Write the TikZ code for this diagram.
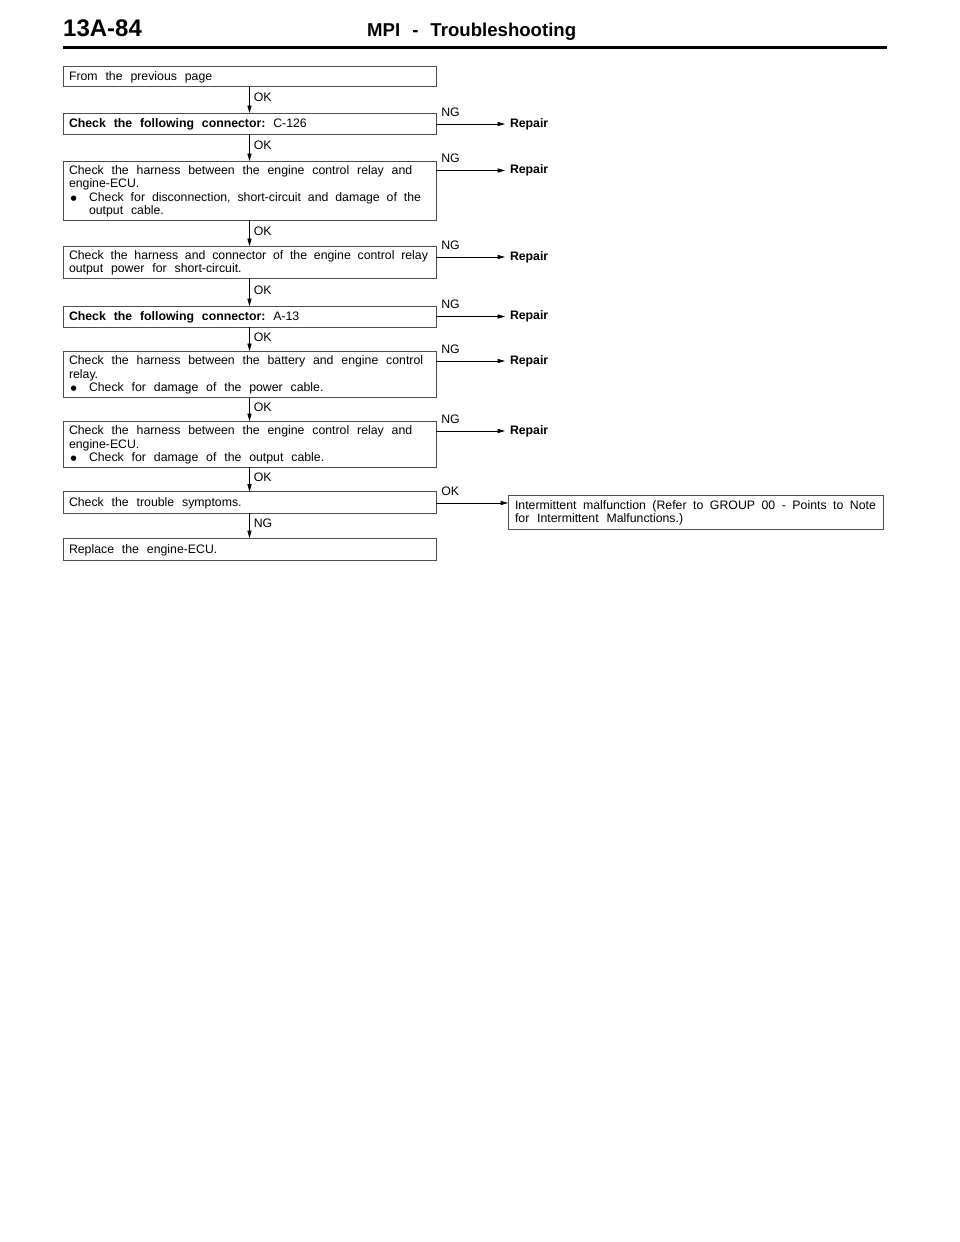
\documentclass[tikz,border=0pt]{standalone}
\usepackage{fontspec}
\setmainfont{Liberation Sans}[WordSpace={2.3,1.5,1.6}]
\newfontfamily\headfont{Liberation Sans}
\newfontfamily\symfont{DejaVu Sans}
\usetikzlibrary{arrows.meta,calc,positioning}
\frenchspacing
\newcommand\st{\rule[-2.6pt]{0pt}{13.5pt}}
\newcommand\boxfont{\fontsize{12.3pt}{13.5pt}\selectfont}
% a left-aligned line of a box
\newcommand\bxl[1]{\hbox to 361pt{\st #1\hfil}}
% a justified line of given width
\newcommand\bxj[2]{\hbox to #1{#2}}
\newcommand\bul{\hbox to 20pt{\hspace{1.5pt}\raisebox{1.2pt}{\symfont\fontsize{7pt}{7pt}\selectfont ●}\hfil}}
\newcommand\lines[1]{\vbox{\baselineskip=13.5pt\lineskip=0pt\lineskiplimit=0pt #1}}
\tikzset{
  box/.style={draw=black!70, line width=0.8pt, anchor=north west, minimum width=373pt,
    inner xsep=6pt, inner ysep=0pt, outer sep=0pt, font=\boxfont},
  arr/.style={-{Triangle[length=7.5pt,width=4.2pt]}, line width=0.7pt, black},
  oklab/.style={midway, anchor=west, inner sep=0pt, xshift=4pt, yshift=2pt, font=\boxfont},
  nglab/.style={pos=0, anchor=south west, inner sep=0pt, xshift=5pt, yshift=7.5pt, font=\boxfont},
  rep/.style={anchor=west, inner xsep=5pt, inner ysep=0pt, outer sep=0pt, font=\boxfont\bfseries}
}
\begin{document}
\begin{tikzpicture}[x=1pt,y=-1pt]
\useasboundingbox (0,0) rectangle (960,1242);
% header
\node[anchor=base west, inner sep=0pt] (pg) at (63,36.7) {\headfont\fontsize{24pt}{24pt}\selectfont\bfseries 13A-84};
\node[anchor=base west, inner sep=0pt] (ttl) at (367,36.7) {\headfont\fontsize{18.6pt}{18.6pt}\selectfont\bfseries MPI\hspace{12pt}-\hspace{12pt}Troubleshooting};
\draw[line width=3pt] (63,47) -- (887,47);
% boxes
\node[box, minimum height=20pt] (b1) at (63,66.5) {\lines{\bxl{From the previous page}}};
\node[box, minimum height=21pt] (b2) at (63,113) {\lines{\bxl{\textbf{Check the following connector:} C-126}}};
\node[box, minimum height=59pt] (b3) at (63,161) {\lines{%
\bxl{Check the harness between the engine control relay and}
\bxl{engine-ECU.}
\bxl{\bul\bxj{332pt}{Check for disconnection, short-circuit and damage of the}}
\bxl{\hspace*{20pt}output cable.}}};
\node[box, minimum height=32pt] (b4) at (63,246) {\lines{%
\bxl{\bxj{359pt}{Check the harness and connector of the engine control relay}}
\bxl{output power for short-circuit.}}};
\node[box, minimum height=21pt] (b5) at (63,306) {\lines{\bxl{\textbf{Check the following connector:} A-13}}};
\node[box, minimum height=46.5pt] (b6) at (63,351) {\lines{%
\bxl{Check the harness between the battery and engine control}
\bxl{relay.}
\bxl{\bul Check for damage of the power cable.}}};
\node[box, minimum height=46pt] (b7) at (63,421) {\lines{%
\bxl{Check the harness between the engine control relay and}
\bxl{engine-ECU.}
\bxl{\bul Check for damage of the output cable.}}};
\node[box, minimum height=21.5pt] (b8) at (63,491.5) {\lines{\bxl{Check the trouble symptoms.}}};
\node[box, minimum height=22pt] (b9) at (63,538) {\lines{\bxl{Replace the engine-ECU.}}};
\node[box, minimum height=34pt, minimum width=375pt, inner xsep=7pt] (im) at (508,495) {\lines{%
\bxl{\bxj{361pt}{Intermittent malfunction (Refer to GROUP 00 - Points to Note}}
\bxl{for Intermittent Malfunctions.)}}};
% vertical connectors
\draw[arr] (b1.south) -- (b2.north) node[oklab]{OK};
\draw[arr] (b2.south) -- (b3.north) node[oklab]{OK};
\draw[arr] (b3.south) -- (b4.north) node[oklab]{OK};
\draw[arr] (b4.south) -- (b5.north) node[oklab]{OK};
\draw[arr] (b5.south) -- (b6.north) node[oklab]{OK};
\draw[arr] (b6.south) -- (b7.north) node[oklab]{OK};
\draw[arr] (b7.south) -- (b8.north) node[oklab]{OK};
\draw[arr] (b8.south) -- (b9.north) node[oklab]{NG};
% repair nodes
\node[rep] (r2) at ($(b2.north east)+(69pt,-11pt)$) {Repair};
\node[rep] (r3) at ($(b3.north east)+(69pt,-9.5pt)$) {Repair};
\node[rep] (r4) at ($(b4.north east)+(69pt,-11pt)$) {Repair};
\node[rep] (r5) at ($(b5.north east)+(69pt,-10.5pt)$) {Repair};
\node[rep] (r6) at ($(b6.north east)+(69pt,-10pt)$) {Repair};
\node[rep] (r7) at ($(b7.north east)+(69pt,-10pt)$) {Repair};
\draw[arr] (r2.west -| b2.east) -- (r2.west) node[nglab]{NG};
\draw[arr] (r3.west -| b3.east) -- (r3.west) node[nglab]{NG};
\draw[arr] (r4.west -| b4.east) -- (r4.west) node[nglab]{NG};
\draw[arr] (r5.west -| b5.east) -- (r5.west) node[nglab]{NG};
\draw[arr] (r6.west -| b6.east) -- (r6.west) node[nglab]{NG};
\draw[arr] (r7.west -| b7.east) -- (r7.west) node[nglab]{NG};
\coordinate (o8) at ($(b8.north east)+(0pt,-11.5pt)$);
\draw[arr] (o8) -- (o8 -| im.west) node[nglab]{OK};
\end{tikzpicture}
\end{document}
